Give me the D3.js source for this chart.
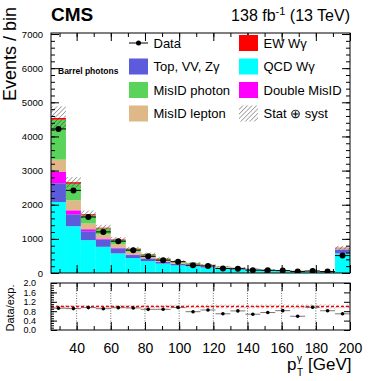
<!DOCTYPE html>
<html>
<head>
<meta charset="utf-8">
<script src="https://d3js.org/d3.v7.min.js"></script>
<style>
  body { margin: 0; background: #fff; }
  text { font-family: "Liberation Sans", Arial, Helvetica, sans-serif; }
</style>
</head>
<body>
<div id="chart"></div>
<script>
// bin edges of the photon pT histogram (last bin is overflow)
var binEdges = [25, 33.75, 42.5, 51.25, 60, 68.75, 77.5, 86.25, 95, 103.75, 112.5,
                121.25, 130, 138.75, 147.5, 156.25, 165, 173.75, 182.5, 191.25, 200];

// stacked backgrounds, bottom to top
var qcdWg    = [2080, 1370, 962, 767, 574, 437, 350, 275, 223, 195, 160, 126, 103, 83, 70, 57, 47, 40, 34, 574];
var topVVZg  = [550, 350, 262, 215, 146, 88, 70, 52, 44, 36, 29, 23, 19, 15, 13, 10, 8, 7, 6, 100];
var doubleMis= [340, 117, 59, 28, 23, 15, 10, 8, 6, 6, 5, 4, 3, 3, 2, 2, 1, 1, 1, 15];
var misLep   = [350, 290, 166, 118, 102, 81, 55, 42, 34, 29, 24, 19, 15, 12, 10, 8, 7, 6, 5, 25];
var misPho   = [1170, 487, 241, 175, 117, 79, 58, 39, 30, 23, 19, 14, 12, 9, 8, 6, 5, 5, 3, 16];
var ewWg     = [50, 45, 30, 24, 20, 14, 12, 10, 8, 6, 5, 4, 3, 3, 2, 2, 2, 1, 1, 10];

// observed events and total uncertainty (stat + syst) on the prediction
var dataEvt  = [4220, 2420, 1641, 1204, 933, 670, 488, 375, 331, 230, 206, 131, 126, 84, 78, 70, 41, 58, 41, 510];
var totUnc   = [340, 150, 110, 85, 70, 52, 42, 33, 28, 25, 21, 17, 14, 11, 10, 8, 7, 6, 5, 55];

var yTicks = [0, 1000, 2000, 3000, 4000, 5000, 6000, 7000];
var xTicks = [40, 60, 80, 100, 120, 140, 160, 180, 200];
var ratioTicks = [0, 0.4, 0.8, 1.2, 1.6, 2.0];

var keys = ["qcd", "top", "dbl", "lep", "pho", "ew"];
var colors = {qcd: "#00ffff", top: "#5b5bdc", dbl: "#ff00ff", lep: "#deb887", pho: "#5ad35a", ew: "#ff0000"};

var rows = qcdWg.map(function(v, i) {
  return {i: i, qcd: v, top: topVVZg[i], dbl: doubleMis[i], lep: misLep[i], pho: misPho[i], ew: ewWg[i]};
});
var totals = rows.map(function(r) { return keys.reduce(function(s, k) { return s + r[k]; }, 0); });

var W = 390, H = 381;
var L = 51, R = 350, T = 33, B = 273, rT = 283, rB = 330;

var x = d3.scaleLinear().domain([25, 200]).range([L, R]);
var y = d3.scaleLinear().domain([0, 7030]).range([B, T]);
var yr = d3.scaleLinear().domain([0, 2.0]).range([rB, rT]);

var svg = d3.select("#chart").append("svg")
  .attr("width", W).attr("height", H);

var defs = svg.append("defs");
function hatch(id, col) {
  var p = defs.append("pattern").attr("id", id)
    .attr("patternUnits", "userSpaceOnUse")
    .attr("width", 3.2).attr("height", 3.2)
    .attr("patternTransform", "rotate(45)");
  p.append("line").attr("x1", 0).attr("y1", 0).attr("x2", 0).attr("y2", 3.2)
    .attr("stroke", col).attr("stroke-width", 0.8);
}
hatch("hatchMain", "#333");
hatch("hatchRatio", "#8a8a8a");

defs.append("clipPath").attr("id", "clipMain")
  .append("rect").attr("x", L).attr("y", T).attr("width", R - L).attr("height", B - T);
defs.append("clipPath").attr("id", "clipRatio")
  .append("rect").attr("x", L).attr("y", rT).attr("width", R - L).attr("height", rB - rT);

// ---- main panel ----
var main = svg.append("g").attr("clip-path", "url(#clipMain)");
var stack = d3.stack().keys(keys)(rows);

main.selectAll("g.layer")
  .data(stack)
  .enter().append("g")
    .attr("class", "layer")
    .attr("fill", function(d) { return colors[d.key]; })
  .selectAll("rect")
  .data(function(d) { return d; })
  .enter().append("rect")
    .attr("x", function(d, i) { return x(binEdges[i]); })
    .attr("width", function(d, i) { return x(binEdges[i + 1]) - x(binEdges[i]); })
    .attr("y", function(d) { return y(d[1]); })
    .attr("height", function(d) { return y(d[0]) - y(d[1]); });

main.selectAll("rect.unc")
  .data(totals)
  .enter().append("rect")
    .attr("class", "unc")
    .attr("x", function(d, i) { return x(binEdges[i]); })
    .attr("width", function(d, i) { return x(binEdges[i + 1]) - x(binEdges[i]); })
    .attr("y", function(d, i) { return y(d + totUnc[i]); })
    .attr("height", function(d, i) { return y(d - totUnc[i]) - y(d + totUnc[i]); })
    .attr("fill", "url(#hatchMain)");

// data points with bin-width bars
var pts = main.selectAll("g.pt").data(dataEvt).enter().append("g").attr("class", "pt");
pts.append("line")
  .attr("x1", function(d, i) { return x(binEdges[i]); })
  .attr("x2", function(d, i) { return x(binEdges[i + 1]); })
  .attr("y1", function(d) { return y(d); })
  .attr("y2", function(d) { return y(d); })
  .attr("stroke", "#000").attr("stroke-width", 1);
pts.append("line")
  .attr("x1", function(d, i) { return x((binEdges[i] + binEdges[i + 1]) / 2); })
  .attr("x2", function(d, i) { return x((binEdges[i] + binEdges[i + 1]) / 2); })
  .attr("y1", function(d) { return y(d + Math.sqrt(d)); })
  .attr("y2", function(d) { return y(d - Math.sqrt(d)); })
  .attr("stroke", "#000").attr("stroke-width", 1);
pts.append("circle")
  .attr("cx", function(d, i) { return x((binEdges[i] + binEdges[i + 1]) / 2); })
  .attr("cy", function(d) { return y(d); })
  .attr("r", 3).attr("fill", "#000");

// axes, ROOT style: ticks inside, mirrored
function styleAxis(g) {
  g.select(".domain").remove();
  g.selectAll(".tick line").attr("stroke", "#000");
}
var xMinor = d3.range(30, 200, 10);
var yMinor = d3.range(0, 7030, 200);

svg.append("g").attr("transform", "translate(" + L + ",0)")
  .call(d3.axisLeft(y).tickValues(yMinor).tickSize(-4).tickFormat("")).call(styleAxis);
svg.append("g").attr("transform", "translate(" + L + ",0)")
  .call(d3.axisLeft(y).tickValues(yTicks).tickSize(-8).tickPadding(8).tickFormat(d3.format("d")))
  .call(styleAxis)
  .selectAll("text").style("font-size", "9.5px").attr("fill", "#000");
svg.append("g").attr("transform", "translate(" + R + ",0)")
  .call(d3.axisRight(y).tickValues(yMinor).tickSize(-4).tickFormat("")).call(styleAxis);
svg.append("g").attr("transform", "translate(" + R + ",0)")
  .call(d3.axisRight(y).tickValues(yTicks).tickSize(-8).tickFormat("")).call(styleAxis);

[[B, -1], [T, 1], [rB, -1], [rT, 1]].forEach(function(p) {
  var ax = p[1] < 0 ? d3.axisBottom : d3.axisTop;
  svg.append("g").attr("transform", "translate(0," + p[0] + ")")
    .call(ax(x).tickValues(xMinor).tickSize(-4).tickFormat("")).call(styleAxis);
  svg.append("g").attr("transform", "translate(0," + p[0] + ")")
    .call(ax(x).tickValues(xTicks).tickSize(-8).tickFormat("")).call(styleAxis);
});

svg.append("rect").attr("x", L).attr("y", T).attr("width", R - L).attr("height", B - T)
  .attr("fill", "none").attr("stroke", "#000").attr("stroke-width", 1);

// ---- ratio panel ----
var ratio = svg.append("g").attr("clip-path", "url(#clipRatio)");

ratio.selectAll("line.grid")
  .data(xTicks.slice(0, -1))
  .enter().append("line")
    .attr("x1", function(d) { return x(d); })
    .attr("x2", function(d) { return x(d); })
    .attr("y1", rT).attr("y2", rB)
    .attr("stroke", "#444").attr("stroke-width", 0.8).attr("stroke-dasharray", "1,1.5");

ratio.selectAll("rect.unc")
  .data(totals)
  .enter().append("rect")
    .attr("x", function(d, i) { return x(binEdges[i]); })
    .attr("width", function(d, i) { return x(binEdges[i + 1]) - x(binEdges[i]); })
    .attr("y", function(d, i) { return yr(1 + totUnc[i] / d); })
    .attr("height", function(d, i) { return yr(1 - totUnc[i] / d) - yr(1 + totUnc[i] / d); })
    .attr("fill", "url(#hatchRatio)");

ratio.append("line")
  .attr("x1", L).attr("x2", R).attr("y1", yr(1)).attr("y2", yr(1))
  .attr("stroke", "#ff0000").attr("stroke-width", 1.6).attr("stroke-dasharray", "3,2");

var rpts = ratio.selectAll("g.rpt").data(dataEvt).enter().append("g").attr("class", "rpt");
rpts.append("line")
  .attr("x1", function(d, i) { return x(binEdges[i]); })
  .attr("x2", function(d, i) { return x(binEdges[i + 1]); })
  .attr("y1", function(d, i) { return yr(d / totals[i]); })
  .attr("y2", function(d, i) { return yr(d / totals[i]); })
  .attr("stroke", "#555").attr("stroke-width", 0.8);
rpts.append("circle")
  .attr("cx", function(d, i) { return x((binEdges[i] + binEdges[i + 1]) / 2); })
  .attr("cy", function(d, i) { return yr(d / totals[i]); })
  .attr("r", 1.8).attr("fill", "#000");

svg.append("g").attr("transform", "translate(" + L + ",0)")
  .call(d3.axisLeft(yr).tickValues(d3.range(0, 2.01, 0.1)).tickSize(-3).tickFormat("")).call(styleAxis);
svg.append("g").attr("transform", "translate(" + L + ",0)")
  .call(d3.axisLeft(yr).tickValues(ratioTicks).tickSize(-6).tickPadding(15).tickFormat(d3.format(".1f")))
  .call(styleAxis)
  .selectAll("text").style("font-size", "9px").attr("fill", "#000");
svg.append("g").attr("transform", "translate(" + R + ",0)")
  .call(d3.axisRight(yr).tickValues(ratioTicks).tickSize(-6).tickFormat("")).call(styleAxis);

svg.append("g").attr("transform", "translate(0," + rB + ")")
  .call(d3.axisBottom(x).tickValues(xTicks).tickSize(0).tickPadding(13).tickFormat(d3.format("d")))
  .call(styleAxis)
  .selectAll("text").style("font-size", "14px").attr("fill", "#000");

svg.append("rect").attr("x", L).attr("y", rT).attr("width", R - L).attr("height", rB - rT)
  .attr("fill", "none").attr("stroke", "#000").attr("stroke-width", 1);

// ---- texts ----
svg.append("text").attr("x", L).attr("y", 21)
  .style("font-size", "19px").style("font-weight", "bold").text("CMS");

var lumi = svg.append("text").attr("x", R).attr("y", 21).attr("text-anchor", "end")
  .style("font-size", "16px");
lumi.append("tspan").text("138 fb");
lumi.append("tspan").attr("dy", -6).style("font-size", "11px").text("-1");
lumi.append("tspan").attr("dy", 6).text(" (13 TeV)");

svg.append("text").attr("x", 58).attr("y", 74)
  .style("font-size", "8.5px").style("font-weight", "bold").text("Barrel photons");

svg.append("text")
  .attr("transform", "translate(15.5,7) rotate(-90)")
  .attr("text-anchor", "end")
  .style("font-size", "18px").text("Events / bin");

svg.append("text")
  .attr("transform", "translate(13.5,308) rotate(-90)")
  .attr("text-anchor", "middle")
  .style("font-size", "11px").text("Data/exp.");

svg.append("text").attr("x", 351.5).attr("y", 370).attr("text-anchor", "end")
  .style("font-size", "17px").text("[GeV]");
svg.append("text").attr("x", 287).attr("y", 370).style("font-size", "17px").text("p");
svg.append("text").attr("x", 297).attr("y", 362).style("font-size", "10px").text("γ");
svg.append("text").attr("x", 297).attr("y", 376).style("font-size", "10px").text("T");

// ---- legend ----
var legend = [
  {label: "Data", kind: "data", col: 0, row: 0},
  {label: "Top, VV, Z\u03b3", kind: "top", col: 0, row: 1},
  {label: "MisID photon", kind: "pho", col: 0, row: 2},
  {label: "MisID lepton", kind: "lep", col: 0, row: 3},
  {label: "EW W\u03b3", kind: "ew", col: 1, row: 0},
  {label: "QCD W\u03b3", kind: "qcd", col: 1, row: 1},
  {label: "Double MisID", kind: "dbl", col: 1, row: 2},
  {label: "Stat \u2295 syst", kind: "unc", col: 1, row: 3}
];
var lg = svg.selectAll("g.leg").data(legend).enter().append("g")
  .attr("class", "leg")
  .attr("transform", function(d) { return "translate(" + (d.col ? 239 : 129) + "," + (43 + d.row * 23.5) + ")"; });
lg.each(function(d) {
  var g = d3.select(this);
  if (d.kind === "data") {
    g.append("line").attr("x1", 0).attr("x2", 19).attr("y1", 0).attr("y2", 0).attr("stroke", "#000");
    g.append("circle").attr("cx", 9.5).attr("cy", 0).attr("r", 2.5).attr("fill", "#000");
  } else if (d.kind === "unc") {
    g.append("rect").attr("x", 0).attr("y", -8).attr("width", 19).attr("height", 16)
      .attr("fill", "url(#hatchMain)");
  } else {
    g.append("rect").attr("x", 0).attr("y", -8).attr("width", 19).attr("height", 16)
      .attr("fill", colors[d.kind]);
  }
  g.append("text").attr("x", 24.5).attr("y", 4.5).style("font-size", "13px").text(d.label);
});
</script>
</body>
</html>
